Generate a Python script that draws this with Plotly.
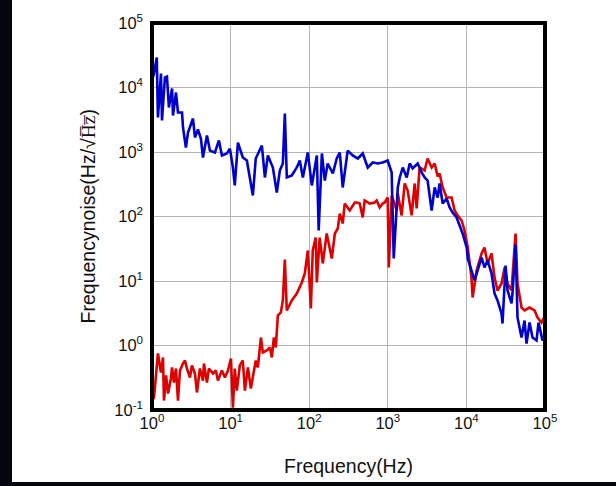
import plotly.graph_objects as go

# ---------------- data ----------------
freq_blue = [1.0, 1.06, 1.15, 1.19, 1.30, 1.34, 1.46, 1.55, 1.64, 1.80, 1.85, 2.02, 2.14, 2.41, 2.48,
             2.70, 2.87, 3.32, 3.52, 3.84, 4.19, 4.45, 5.00, 5.46, 6.32, 7.10, 7.75, 8.97, 9.80, 10.7,
             11.3, 12.4, 14.3, 16.1, 19.2, 20.9, 25.0, 27.3, 29.8, 34.5, 38.7, 42.3, 46.2, 49.0, 51.9,
             60.1, 69.5, 76.0, 83.0, 96.0, 108, 125, 132, 145, 158, 172, 200, 224, 245, 267,
             309, 358, 415, 480, 556, 643, 745, 861, 997, 1120, 1190, 1340, 1420, 1550, 1740,
             1900, 2070, 2400, 2700, 2940, 3210, 3610, 3950, 4310, 4560, 4990, 5600, 6120, 6680, 7500,
             8200, 8950, 10100, 10400, 11600, 12700, 13900, 15600, 17000, 18600, 20900, 22800, 24900,
             28000, 28800, 31500, 33400, 37500, 38600, 42200, 44700, 50300, 54900, 58200, 63600,
             69400, 78000, 82700, 92900, 100000]
noise_blue = [12900, 16500, 29200, 3430, 16500, 3080, 14300, 14800, 4900, 9650, 3680, 8360, 4100, 4100, 2400,
              1170, 2010, 3300, 1680, 2230, 1620, 822, 1800, 1050, 982, 1510, 883, 948, 1130, 575,
              303, 1400, 822, 738, 212, 793, 1260, 403, 883, 575, 236, 517, 663, 3950, 403,
              433, 575, 738, 403, 982, 303, 883, 60.7, 948, 361, 663, 464, 793, 982, 282,
              1050, 883, 793, 948, 575, 688, 663, 688, 738, 481, 22.3, 282, 403, 575, 403,
              663, 555, 663, 481, 403, 361, 124, 282, 197, 325, 159, 190, 138, 115, 96.6,
              72.5, 54.5, 33.0, 22.3, 14.6, 10.2, 14.6, 23.1, 16.2, 20.8, 13.1, 6.40, 4.99,
              3.13, 2.19, 17.4, 7.13, 4.48, 6.40, 36.8, 2.72, 1.33, 2.44, 1.07, 2.27,
              1.33, 1.20, 2.27, 1.20, 1.43]

freq_red = [1.0, 1.06, 1.19, 1.30, 1.38, 1.42, 1.51, 1.60, 1.74, 1.80, 1.90, 2.02, 2.14, 2.27, 2.48,
            2.63, 2.78, 3.04, 3.22, 3.52, 3.73, 4.07, 4.45, 4.58, 5.00, 5.30, 5.96, 6.50, 6.90, 7.75,
            8.47, 9.25, 10.1, 10.7, 11.3, 12.0, 13.1, 14.3, 15.2, 16.6, 18.1, 19.8, 20.9, 22.2, 24.3,
            25.7, 28.9, 31.6, 33.5, 35.5, 37.6, 39.9, 43.6, 46.2, 49.0, 51.9, 60.1, 69.5, 80.5, 87.9,
            96.0, 105, 111, 121, 125, 136, 149, 167, 194, 212, 231, 245, 267, 283, 328,
            380, 403, 439, 480, 508, 589, 682, 723, 789, 861, 914, 997, 1030, 1120, 1300,
            1340, 1500, 1640, 1790, 2010, 2200, 2330, 2540, 2940, 3210, 3610, 3950, 4310, 4560, 4990,
            5600, 6490, 7080, 7730, 8690, 9480, 10400, 11000, 11600, 12000, 13500, 15600, 17000, 18600,
            20900, 22800, 24900, 28000, 30600, 33400, 37500, 42200, 44700, 50300, 54900, 63600, 73600,
            80400, 90200, 100000]
noise_red = [0.140, 0.156, 0.752, 0.381, 0.652, 0.140, 0.343, 0.180, 0.308, 0.456, 0.267, 0.440, 0.140, 0.409, 0.526,
             0.585, 0.440, 0.319, 0.490, 0.368, 0.187, 0.440, 0.286, 0.526, 0.267, 0.440, 0.368, 0.409, 0.286, 0.409,
             0.319, 0.409, 0.628, 0.109, 0.440, 0.200, 0.490, 0.585, 0.200, 0.456, 0.215, 0.409, 0.585, 0.456, 1.33,
             0.778, 0.836, 0.931, 0.652, 1.33, 0.931, 2.92, 3.25, 4.99, 21.5, 3.49, 4.99, 6.40, 9.48, 13.1,
             29.7, 3.75, 29.7, 47.2, 9.48, 47.2, 18.7, 54.5, 22.3, 54.5, 65.2, 111, 77.9, 159, 124,
             165, 165, 159, 96.6, 177, 159, 165, 177, 138, 159, 165, 197, 16.2, 212, 124,
             227, 104, 325, 253, 104, 325, 133, 575, 517, 793, 575, 663, 417, 464, 282,
             197, 197, 124, 104, 86.7, 60.7, 33.0, 17.4, 11.3, 5.55, 14.6, 26.7, 33.0, 18.7,
             26.7, 11.3, 7.13, 9.14, 16.2, 9.14, 7.13, 54.5, 9.14, 3.88, 3.49, 3.88, 3.49,
             2.72, 2.27, 2.92]

x_tick_vals = [1, 10, 100, 1000, 10000, 100000]
x_tick_text = ["10<sup>0</sup>", "10<sup>1</sup>", "10<sup>2</sup>", "10<sup>3</sup>",
               "10<sup>4</sup>", "10<sup>5</sup>"]
y_tick_vals = [0.1, 1, 10, 100, 1000, 10000, 100000]
y_tick_text = ["10<sup>-1</sup>", "10<sup>0</sup>", "10<sup>1</sup>", "10<sup>2</sup>",
               "10<sup>3</sup>", "10<sup>4</sup>", "10<sup>5</sup>"]

x_title = "Frequency(Hz)"
y_title = ("Frequencynoise(Hz/√<span style=\"font-family:'Liberation Serif'\">H\u0305z\u0305</span>)")

# ---------------- figure ----------------
FONT = "Liberation Sans, Arial, sans-serif"

fig = go.Figure()
fig.add_trace(go.Scatter(x=freq_red, y=noise_red, mode="lines",
                         line=dict(color="#dd0000", width=2.6), showlegend=False))
fig.add_trace(go.Scatter(x=freq_blue, y=noise_blue, mode="lines",
                         line=dict(color="#0000cc", width=2.6), showlegend=False))

fig.update_xaxes(type="log", range=[0, 5], tickvals=x_tick_vals, ticktext=x_tick_text,
                 showgrid=True, gridcolor="#b4b4b4", gridwidth=1.2, zeroline=False,
                 ticks="", showline=False, ticklabelstandoff=1,
                 tickfont=dict(family=FONT, size=16.5, color="#111"))
fig.update_yaxes(type="log", range=[-1, 5], tickvals=y_tick_vals, ticktext=y_tick_text,
                 showgrid=True, gridcolor="#b4b4b4", gridwidth=1.2, zeroline=False,
                 ticks="", showline=False, ticklabelstandoff=8,
                 tickfont=dict(family=FONT, size=16.5, color="#111"))

fig.update_layout(
    width=616, height=486,
    margin=dict(l=152, r=71, t=23, b=76, pad=0, autoexpand=False),
    paper_bgcolor="white", plot_bgcolor="white",
    font=dict(family=FONT, color="#111"),
    shapes=[
        dict(type="rect", xref="paper", yref="paper", x0=0, x1=1, y0=0, y1=1,
             line=dict(color="black", width=4), layer="above"),
        dict(type="rect", xref="paper", yref="paper", x0=-0.40, x1=-0.3562, y0=-0.20, y1=1.07,
             line=dict(width=0), fillcolor="#04060d", layer="below"),
        dict(type="rect", xref="paper", yref="paper", x0=-0.40, x1=1.19, y0=-0.20, y1=-0.186,
             line=dict(width=0), fillcolor="#04060d", layer="below"),
    ],
    annotations=[
        dict(text=x_title, xref="paper", yref="paper", x=0.5, y=-0.145, xanchor="center",
             yanchor="middle", showarrow=False, font=dict(family=FONT, size=19.5, color="#111")),
        dict(text=y_title, xref="paper", yref="paper", x=-0.163, y=0.5, xanchor="center",
             yanchor="middle", textangle=-90, showarrow=False,
             font=dict(family=FONT, size=19.5, color="#111")),
    ],
)

fig.write_html("out.html", config={"displayModeBar": False},
               post_script="document.body.style.margin='0';")
